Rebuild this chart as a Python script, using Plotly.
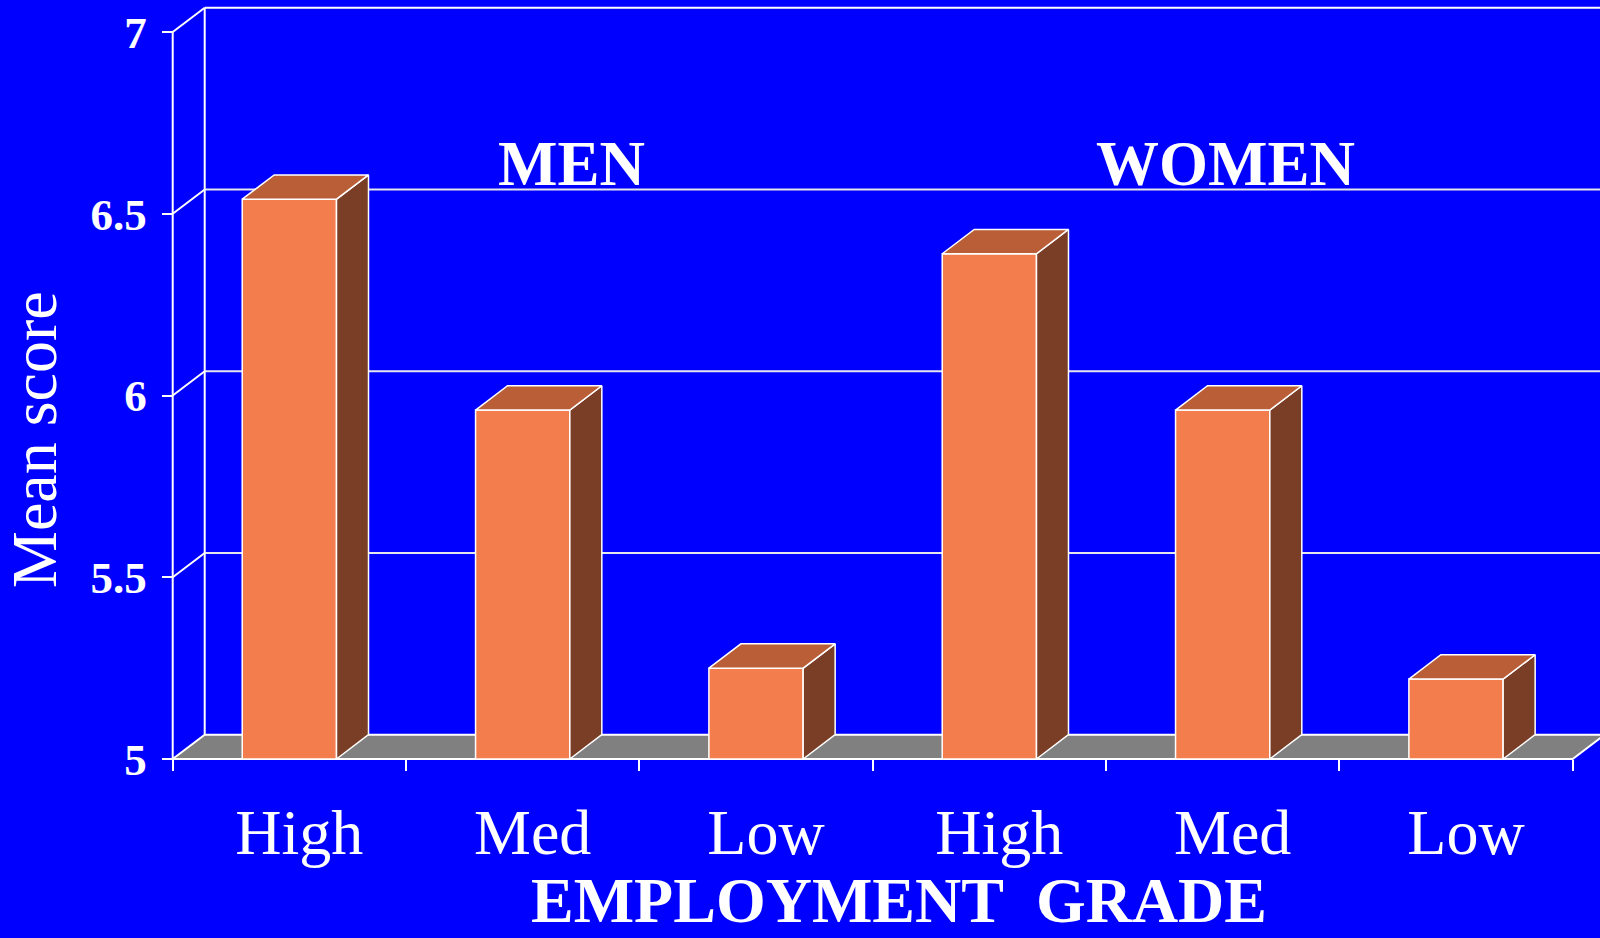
import plotly.graph_objects as go

# ---- data ----
categories = ["High", "Med", "Low", "High", "Med", "Low"]
groups = ["MEN", "WOMEN"]
mean_scores = [6.54, 5.96, 5.25, 6.39, 5.96, 5.22]
y_ticks = [5, 5.5, 6, 6.5, 7]
y_tick_labels = ["5", "5.5", "6", "6.5", "7"]

# ---- style ----
BG = "#0000FF"
FRONT = "#F47D4E"
TOP = "#BA5E38"
SIDE = "#7A3E26"
FLOOR = "#808080"
WHITE = "#FFFFFF"
GRID = "#E6E6EE"
SERIF = "Liberation Serif"

W = 1600
H = 938
PX_PER_CAT = 233.33
PX_PER_UNIT = 363.5
X0_PX = 172.7      # pixel of category boundary -0.5
Y5_PX = 759.0      # pixel of value 5
DX = 32.0 / PX_PER_CAT     # depth offset in x units
DY = 24.3 / PX_PER_UNIT    # depth offset in y units
BAR_W = 0.404

x_min = -0.5 - X0_PX / PX_PER_CAT
x_max = -0.5 + (W - X0_PX) / PX_PER_CAT
y_min = y_ticks[0] - (H - Y5_PX) / PX_PER_UNIT
y_max = y_ticks[0] + Y5_PX / PX_PER_UNIT

base = y_ticks[0]
top_val = y_ticks[-1]
n = len(categories)
left_b = -0.5
right_b = n - 0.5

fig = go.Figure()

# bars (front, side, top)
for i, v in enumerate(mean_scores):
    xl = i - BAR_W / 2
    xr = i + BAR_W / 2
    fig.add_trace(go.Scatter(x=[xl, xr, xr, xl, xl], y=[base, base, v, v, base],
                             fill="toself", fillcolor=FRONT, mode="lines",
                             line=dict(color=WHITE, width=1.5), hoverinfo="skip",
                             showlegend=False))
    fig.add_trace(go.Scatter(x=[xr, xr + DX, xr + DX, xr, xr],
                             y=[base, base + DY, v + DY, v, base],
                             fill="toself", fillcolor=SIDE, mode="lines",
                             line=dict(color=WHITE, width=1.5), hoverinfo="skip",
                             showlegend=False))
    fig.add_trace(go.Scatter(x=[xl, xl + DX, xr + DX, xr, xl],
                             y=[v, v + DY, v + DY, v, v],
                             fill="toself", fillcolor=TOP, mode="lines",
                             line=dict(color=WHITE, width=1.5), hoverinfo="skip",
                             showlegend=False))

shapes = []
# back wall gridlines
for t in y_ticks[1:]:
    shapes.append(dict(type="line", xref="x", yref="y", layer="below",
                       x0=left_b + DX, x1=x_max + 1, y0=t + DY, y1=t + DY,
                       line=dict(color=GRID if t != top_val else WHITE, width=2)))
    shapes.append(dict(type="line", xref="x", yref="y", layer="below",
                       x0=left_b, x1=left_b + DX, y0=t, y1=t + DY,
                       line=dict(color=WHITE, width=2)))
# back wall left edge
shapes.append(dict(type="line", xref="x", yref="y", layer="below",
                   x0=left_b + DX, x1=left_b + DX, y0=base + DY, y1=top_val + DY,
                   line=dict(color=WHITE, width=2)))
# floor
shapes.append(dict(type="path", xref="x", yref="y", layer="below",
                   path=f"M {left_b},{base} L {right_b},{base} L {right_b + DX},{base + DY} "
                        f"L {left_b + DX},{base + DY} Z",
                   fillcolor=FLOOR, line=dict(color=WHITE, width=2)))
# front value axis line
shapes.append(dict(type="line", xref="x", yref="y", layer="below",
                   x0=left_b, x1=left_b, y0=base, y1=top_val,
                   line=dict(color=WHITE, width=2)))

annotations = [
    dict(text=groups[0], xref="paper", yref="paper", x=571 / W, y=1 - 127 / H,
         xanchor="center", yanchor="top", showarrow=False,
         font=dict(family=SERIF, size=63, color=WHITE, weight="bold")),
    dict(text=groups[1], xref="paper", yref="paper", x=1225 / W, y=1 - 127 / H,
         xanchor="center", yanchor="top", showarrow=False,
         font=dict(family=SERIF, size=63, color=WHITE, weight="bold")),
    dict(text="EMPLOYMENT\u00a0 GRADE", xref="paper", yref="paper", x=899 / W, y=0,
         xanchor="center", yanchor="bottom", showarrow=False,
         font=dict(family=SERIF, size=64, color=WHITE, weight="bold")),
    dict(text="Mean score", xref="paper", yref="paper", x=34 / W, y=1 - 440 / H,
         xanchor="center", yanchor="middle", showarrow=False, textangle=-90,
         font=dict(family=SERIF, size=64, color=WHITE)),
]

fig.update_layout(
    width=W, height=H,
    margin=dict(l=0, r=0, t=0, b=0),
    paper_bgcolor=BG, plot_bgcolor=BG,
    showlegend=False,
    shapes=shapes,
    annotations=annotations,
    xaxis=dict(range=[x_min, x_max], anchor="free", position=(H - Y5_PX) / H,
               showgrid=False, zeroline=False, showline=False,
               tickmode="array", tickvals=list(range(n)), ticktext=categories,
               ticks="", ticklabelstandoff=30, ticklabelshift=10,
               tickfont=dict(family=SERIF, size=64, color=WHITE),
               minor=dict(tickmode="array", tickvals=[k - 0.5 for k in range(n + 1)],
                          ticks="outside", ticklen=11, tickwidth=2, tickcolor=WHITE,
                          showgrid=False),
               fixedrange=True),
    yaxis=dict(range=[y_min, y_max], anchor="free", position=X0_PX / W,
               showgrid=False, zeroline=False, showline=False,
               tickmode="array", tickvals=y_ticks, ticktext=y_tick_labels,
               ticks="outside", ticklen=11, tickwidth=2, tickcolor=WHITE,
               ticklabelstandoff=6,
               tickfont=dict(family=SERIF, size=45, color=WHITE, weight="bold"),
               fixedrange=True),
)

fig.write_html(
    "out.html",
    config={"displayModeBar": False},
    post_script="document.body.style.margin='0';document.body.style.background='#0000FF';"
                "document.body.style.overflow='hidden';",
)
